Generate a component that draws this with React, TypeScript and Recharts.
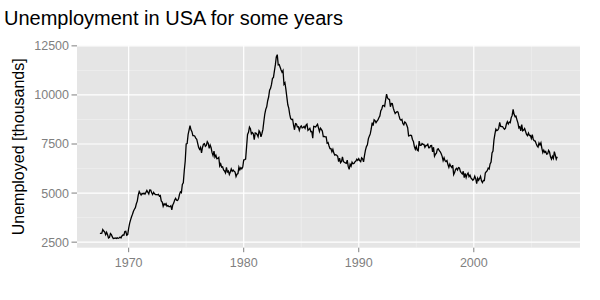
import React from 'react';
import { LineChart, Line, XAxis, YAxis, CartesianGrid } from 'recharts';

const title = 'Unemployment in USA for some years';
const yTitle = 'Unemployed [thousands]';
const startYear = 1967;
const startMonth = 7;
// monthly unemployed (thousands), 1967-07 .. 2007-04
const unemploy = [
  2944, 2945, 2958, 3143, 3066, 3018,
  2878, 3001, 2877, 2709, 2740, 2938, 2883, 2768, 2686, 2689, 2715, 2685,
  2718, 2692, 2712, 2758, 2713, 2816, 2868, 2856, 3040, 3049, 2856, 2884,
  3201, 3453, 3635, 3797, 3919, 4071, 4175, 4256, 4456, 4591, 4898, 5076,
  4986, 4903, 4987, 4959, 4996, 4949, 5035, 5134, 5042, 4954, 5161, 5154,
  5019, 4928, 5038, 4959, 4922, 4923, 4913, 4939, 4849, 4875, 4602, 4543,
  4326, 4452, 4394, 4459, 4329, 4363, 4305, 4305, 4350, 4144, 4396, 4489,
  4644, 4731, 4634, 4618, 4705, 4927, 5063, 5022, 5437, 5523, 6140, 6636,
  7501, 7520, 7978, 8210, 8433, 8220, 8127, 7928, 7923, 7897, 7794, 7744,
  7534, 7326, 7230, 7330, 7053, 7322, 7490, 7518, 7380, 7430, 7620, 7545,
  7280, 7443, 7307, 7059, 6911, 7134, 6829, 6925, 6751, 6763, 6815, 6386,
  6489, 6318, 6337, 6180, 6127, 6028, 6309, 6080, 6125, 5947, 6077, 6228,
  6109, 6173, 6109, 6069, 5840, 5959, 5996, 6320, 6190, 6296, 6238, 6325,
  6683, 6702, 6729, 7358, 7984, 8098, 8363, 8281, 8021, 8088, 8023, 7718,
  8071, 8051, 7982, 7869, 8174, 8098, 7863, 8036, 8230, 8646, 9029, 9267,
  9397, 9705, 9895, 10244, 10335, 10538, 10849, 10881, 11217, 11529, 11938, 12051,
  11534, 11545, 11408, 11268, 11154, 11246, 10548, 10623, 10282, 9887, 9499, 9331,
  9008, 8791, 8746, 8762, 8456, 8226, 8537, 8519, 8367, 8381, 8198, 8358,
  8423, 8321, 8339, 8395, 8302, 8460, 8513, 8196, 8248, 8298, 8128, 8138,
  7795, 8402, 8383, 8364, 8439, 8508, 8319, 8135, 8310, 8243, 8159, 7883,
  7892, 7865, 7862, 7542, 7574, 7398, 7268, 7261, 7102, 7227, 7035, 6936,
  6953, 6929, 6876, 6601, 6779, 6546, 6605, 6843, 6604, 6568, 6537, 6518,
  6682, 6359, 6205, 6468, 6375, 6577, 6495, 6511, 6590, 6630, 6725, 6667,
  6752, 6651, 6598, 6797, 6742, 6590, 6922, 7188, 7368, 7459, 7764, 7901,
  8015, 8265, 8586, 8439, 8736, 8692, 8586, 8666, 8722, 8842, 8931, 9198,
  9283, 9454, 9460, 9415, 9744, 10040, 9850, 9787, 9781, 9398, 9565, 9557,
  9325, 9183, 9056, 9110, 9149, 9121, 8930, 8763, 8714, 8750, 8542, 8477,
  8630, 8583, 8470, 8331, 7915, 7927, 7946, 7933, 7734, 7632, 7375, 7230,
  7375, 7187, 7153, 7645, 7430, 7427, 7527, 7484, 7478, 7328, 7426, 7423,
  7491, 7313, 7318, 7415, 7423, 7095, 7337, 6882, 6979, 7031, 7236, 7253,
  7158, 7102, 7000, 6873, 6655, 6799, 6655, 6608, 6656, 6454, 6308, 6476,
  6368, 6306, 6422, 5941, 6047, 6212, 6259, 6179, 6300, 6280, 6100, 6032,
  5976, 6111, 5783, 6004, 5796, 5951, 6025, 5838, 5915, 5778, 5716, 5653,
  5708, 5858, 5733, 5481, 5758, 5651, 5747, 5853, 5625, 5534, 5639, 5634,
  6023, 6089, 6141, 6271, 6226, 6484, 6583, 7042, 7142, 7694, 8003, 8258,
  8182, 8215, 8304, 8599, 8399, 8393, 8390, 8304, 8251, 8307, 8520, 8640,
  8520, 8618, 8588, 8842, 8957, 9266, 9011, 8896, 8921, 8732, 8576, 8317,
  8370, 8167, 8491, 8170, 8212, 8286, 8136, 7990, 7927, 8061, 7932, 7934,
  7784, 7980, 7737, 7672, 7651, 7524, 7406, 7345, 7553, 7453, 7566, 7279,
  7064, 7184, 7072, 7120, 6980, 7001, 7175, 7091, 6847, 6727, 6872, 6762,
  7116, 6927, 6731, 6850,
];
const xTicks = [1970, 1980, 1990, 2000];
const xMinor = [1975, 1985, 1995, 2005];
const yTicks = [2500, 5000, 7500, 10000, 12500];
const yMinor = [3750, 6250, 8750, 11250];
const xDomain: [number, number] = [1965.51, 2009.23];
const yDomain: [number, number] = [2217, 12519];

const data = unemploy.map((v, i) => {
  const m = startMonth - 1 + i;
  return { t: startYear + Math.floor(m / 12) + (m % 12) / 12, unemploy: v };
});

const FONT = '"Liberation Sans", Arial, Helvetica, sans-serif';

export default function App() {
  return (
    <div style={{ position: 'absolute', left: 0, top: 0, width: 600, height: 300, background: '#fff' }}>
      <div
        style={{
          position: 'absolute',
          left: 4,
          top: 8,
          fontSize: 20,
          lineHeight: 1,
          fontFamily: FONT,
          color: '#000',
          whiteSpace: 'nowrap',
        }}
      >
        {title}
      </div>
      <LineChart
        width={600}
        height={300}
        data={data}
        margin={{ top: 45.5, right: 20, bottom: 0, left: 0 }}
      >
        <CartesianGrid
          fill="#E5E5E5"
          fillOpacity={1}
          stroke="#F2F2F2"
          strokeWidth={0.6}
          horizontalValues={yMinor}
          verticalValues={xMinor}
        />
        <CartesianGrid
          fill="none"
          stroke="#FFFFFF"
          strokeWidth={1.2}
          horizontalValues={yTicks}
          verticalValues={xTicks}
        />
        <XAxis
          type="number"
          dataKey="t"
          domain={xDomain}
          ticks={xTicks}
          allowDataOverflow
          height={52.3}
          axisLine={false}
          tickLine={{ stroke: '#7F7F7F' }}
          tickSize={4.5}
          tickMargin={6}
          tick={{ fill: '#7F7F7F', fontSize: 12.5, fontFamily: FONT }}
        />
        <YAxis
          type="number"
          domain={yDomain}
          ticks={yTicks}
          allowDataOverflow
          width={77}
          axisLine={false}
          tickLine={{ stroke: '#7F7F7F' }}
          tickSize={5.5}
          tickMargin={2.5}
          tick={{ fill: '#7F7F7F', fontSize: 12.5, fontFamily: FONT }}
          label={{
            content: () => (
              <text
                x={24.5}
                y={146.8}
                transform="rotate(-90 24.5 146.8)"
                textAnchor="middle"
                fontSize={16}
                fontFamily={FONT}
                fill="#000"
              >
                {yTitle}
              </text>
            ),
          }}
        />
        <Line
          type="linear"
          dataKey="unemploy"
          stroke="#000000"
          strokeWidth={1.3}
          dot={false}
          activeDot={false}
          isAnimationActive={false}
        />
      </LineChart>
    </div>
  );
}
